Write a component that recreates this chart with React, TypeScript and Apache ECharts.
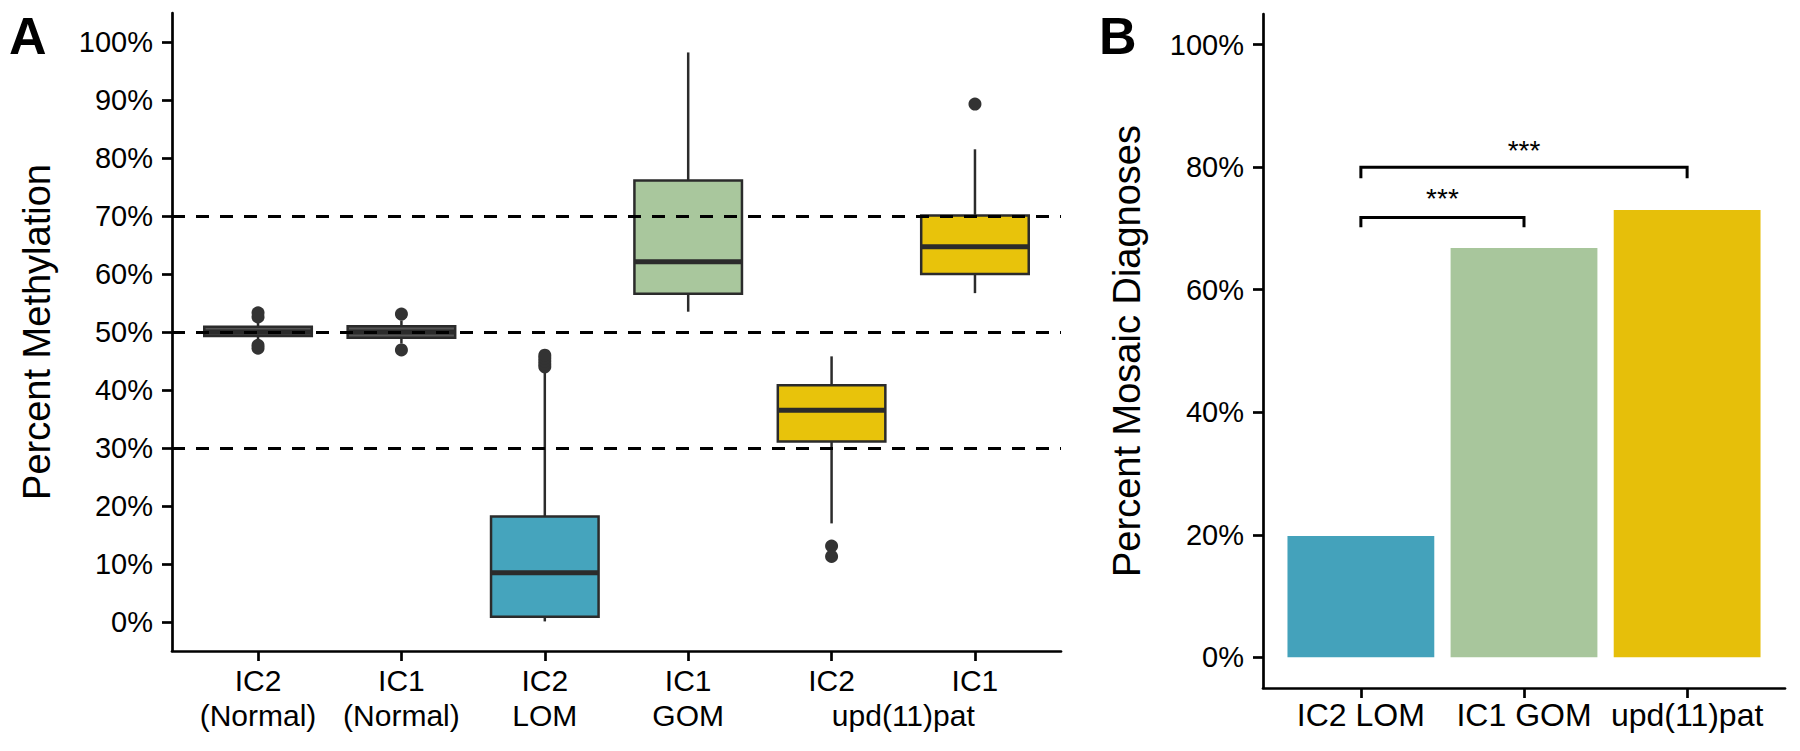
import React, { useEffect, useRef } from 'react';
import * as echarts from 'echarts';

const FONT = '"Liberation Sans", Arial, Helvetica, sans-serif';

// ---------- Panel A data ----------
const groupsA = ['IC2 (Normal)', 'IC1 (Normal)', 'IC2 LOM', 'IC1 GOM', 'IC2 upd(11)pat', 'IC1 upd(11)pat'];
const tickLabelsA = ['IC2\n(Normal)', 'IC1\n(Normal)', 'IC2\nLOM', 'IC1\nGOM', 'IC2', 'IC1'];
const sharedLabelA = 'upd(11)pat'; // second line shared by the last two groups
const sharedLabelPosA = 4.5;
// [min, Q1, median, Q3, max]
const boxStatsA = [
  [48.6, 49.3, 50.0, 50.9, 51.6],
  [48.0, 49.0, 50.0, 51.0, 52.0],
  [0.1, 0.9, 8.5, 18.2, 43.1],
  [53.5, 56.6, 62.1, 76.1, 98.2],
  [17.0, 31.1, 36.5, 40.8, 45.8],
  [56.7, 60.0, 64.7, 70.1, 81.5],
];
// [group index, value]
const outliersA = [
  [0, 52.6], [0, 53.3], [0, 47.2], [0, 47.7],
  [1, 53.1], [1, 46.9],
  [2, 44.0], [2, 44.5], [2, 45.0], [2, 45.5], [2, 46.0],
  [4, 13.1], [4, 11.3],
  [5, 89.3],
];
const thresholdsA = [30, 50, 70];
const yTicksA = [0, 10, 20, 30, 40, 50, 60, 70, 80, 90, 100];

// ---------- Panel B data ----------
const categoriesB = ['IC2 LOM', 'IC1 GOM', 'upd(11)pat'];
const valuesB = [19.8, 66.8, 73.0];
const yTicksB = [0, 20, 40, 60, 80, 100];
// [from index, to index, bracket level, tip end, label level]
const bracketsB = [
  [0, 1, 71.8, 70.2, 75.9],
  [0, 2, 80.0, 78.2, 83.7],
];
const signifB = ['***', '***'];

// ---------- styles ----------
const boxFillA = ['#555555', '#555555', '#45A4BD', '#A9C79D', '#E8C30B', '#E8C30B'];
const barFillB = ['#44A2BB', '#A8C69C', '#E6BF0A'];
const INK = '#2b2b2b';

export default function App() {
  const ref = useRef<HTMLDivElement>(null);

  useEffect(() => {
    if (!ref.current) return;
    const chart = echarts.init(ref.current, undefined, { renderer: 'svg' });

    const axisLineStyle = { color: '#000', width: 2.7 };
    const idxA = groupsA.map((_, i) => i);
    const idxB = categoriesB.map((_, i) => i);
    const xMaxA = idxA.length - 1 + 0.6;

    const option: any = {
      animation: false,
      backgroundColor: '#fff',
      textStyle: { fontFamily: FONT },
      grid: [
        { left: 172, top: 13, width: 889, height: 638 },
        { left: 1263, top: 14, width: 522, height: 674 },
      ],
      xAxis: [
        {
          type: 'value', gridIndex: 0, min: -0.6, max: xMaxA,
          axisLine: { show: true, onZero: false, lineStyle: axisLineStyle },
          axisTick: { show: true, customValues: idxA, length: 10, lineStyle: axisLineStyle },
          axisLabel: {
            customValues: idxA,
            formatter: (v: number) => tickLabelsA[Math.round(v)],
            fontSize: 30, lineHeight: 35, color: '#000', margin: 12, fontFamily: FONT,
          },
          splitLine: { show: false },
        },
        {
          type: 'value', gridIndex: 1, min: -0.6, max: idxB.length - 1 + 0.6,
          axisLine: { show: true, onZero: false, lineStyle: axisLineStyle },
          axisTick: { show: true, customValues: idxB, length: 10, lineStyle: axisLineStyle },
          axisLabel: {
            customValues: idxB,
            formatter: (v: number) => categoriesB[Math.round(v)],
            fontSize: 32, color: '#000', margin: 11, fontFamily: FONT,
          },
          splitLine: { show: false },
        },
        {
          // shared second-line label under the two upd(11)pat groups
          type: 'value', gridIndex: 0, min: -0.6, max: xMaxA, position: 'bottom',
          axisLine: { show: false, onZero: false },
          axisTick: { show: false },
          axisLabel: {
            customValues: [sharedLabelPosA],
            formatter: () => sharedLabelA,
            fontSize: 30, lineHeight: 35, color: '#000', margin: 47, fontFamily: FONT,
          },
          splitLine: { show: false },
        },
      ],
      yAxis: [
        {
          type: 'value', gridIndex: 0, min: -5, max: 105,
          axisLine: { show: true, onZero: false, lineStyle: axisLineStyle },
          axisTick: { show: true, customValues: yTicksA, length: 10, lineStyle: axisLineStyle },
          axisLabel: { customValues: yTicksA, formatter: (v: number) => v + '%', fontSize: 29, color: '#000', margin: 19, fontFamily: FONT },
          splitLine: { show: false },
          name: 'Percent Methylation', nameLocation: 'middle', nameGap: 116,
          nameTextStyle: { fontSize: 38, color: '#000', fontFamily: FONT },
        },
        {
          type: 'value', gridIndex: 1, min: -5, max: 105,
          axisLine: { show: true, onZero: false, lineStyle: axisLineStyle },
          axisTick: { show: true, customValues: yTicksB, length: 10, lineStyle: axisLineStyle },
          axisLabel: { customValues: yTicksB, formatter: (v: number) => v + '%', fontSize: 29, color: '#000', margin: 19, fontFamily: FONT },
          splitLine: { show: false },
          name: 'Percent Mosaic Diagnoses', nameLocation: 'middle', nameGap: 117,
          nameTextStyle: { fontSize: 38, color: '#000', fontFamily: FONT },
        },
      ],
      graphic: [
        { type: 'text', left: 9, top: 10, style: { text: 'A', fontSize: 52, fontWeight: 'bold', fontFamily: FONT, fill: '#000' } },
        { type: 'text', left: 1099, top: 10, style: { text: 'B', fontSize: 52, fontWeight: 'bold', fontFamily: FONT, fill: '#000' } },
      ],
      series: [
        {
          type: 'custom', name: 'boxes', xAxisIndex: 0, yAxisIndex: 0, z: 2,
          data: boxStatsA.map((s, i) => [i, ...s]),
          encode: { x: 0, y: [1, 2, 3, 4, 5] },
          renderItem: (params: any, api: any) => {
            const x = api.value(0);
            const yMin = api.coord([x, api.value(1)])[1];
            const yQ1 = api.coord([x, api.value(2)])[1];
            const yMed = api.coord([x, api.value(3)])[1];
            const yQ3 = api.coord([x, api.value(4)])[1];
            const cx = api.coord([x, api.value(5)])[0];
            const yMax = api.coord([x, api.value(5)])[1];
            const half = api.size([0.75, 0])[0] / 2;
            const ls = { stroke: INK, lineWidth: 2.5 };
            return {
              type: 'group',
              children: [
                { type: 'line', shape: { x1: cx, y1: yMax, x2: cx, y2: yQ3 }, style: ls },
                { type: 'line', shape: { x1: cx, y1: yQ1, x2: cx, y2: yMin }, style: ls },
                { type: 'rect', shape: { x: cx - half, y: yQ3, width: 2 * half, height: yQ1 - yQ3 }, style: { fill: boxFillA[params.dataIndex], stroke: INK, lineWidth: 2.5 } },
                { type: 'line', shape: { x1: cx - half, y1: yMed, x2: cx + half, y2: yMed }, style: { stroke: INK, lineWidth: 5 } },
              ],
            };
          },
        },
        {
          type: 'scatter', name: 'outliers', xAxisIndex: 0, yAxisIndex: 0, z: 3,
          data: outliersA, symbolSize: 13,
          itemStyle: { color: '#333333', opacity: 1 },
          markLine: {
            silent: true, symbol: ['none', 'none'], label: { show: false },
            lineStyle: { type: [13, 11], width: 3, color: '#000' },
            emphasis: { disabled: true },
            data: thresholdsA.map((v) => ({ yAxis: v })),
            z: 6,
          },
        },
        {
          type: 'custom', name: 'bars', xAxisIndex: 1, yAxisIndex: 1, z: 2,
          data: valuesB.map((v, i) => [i, v]),
          encode: { x: 0, y: 1 },
          renderItem: (params: any, api: any) => {
            const x = api.value(0);
            const [cx, top] = api.coord([x, api.value(1)]);
            const base = api.coord([x, 0])[1];
            const half = api.size([0.9, 0])[0] / 2;
            return { type: 'rect', shape: { x: cx - half, y: top, width: 2 * half, height: base - top }, style: { fill: barFillB[params.dataIndex] } };
          },
        },
        {
          type: 'custom', name: 'brackets', xAxisIndex: 1, yAxisIndex: 1, z: 4,
          data: bracketsB,
          encode: { x: [0, 1], y: [2, 3, 4] },
          renderItem: (params: any, api: any) => {
            const x1 = api.value(0), x2 = api.value(1);
            const pA = api.coord([x1, api.value(3)]);
            const pB = api.coord([x1, api.value(2)]);
            const pC = api.coord([x2, api.value(2)]);
            const pD = api.coord([x2, api.value(3)]);
            const s = api.coord([(x1 + x2) / 2, api.value(4)]);
            return {
              type: 'group',
              children: [
                { type: 'polyline', shape: { points: [pA, pB, pC, pD] }, style: { stroke: '#000', lineWidth: 3, fill: 'none' } },
                { type: 'text', x: s[0], y: s[1] + 6, style: { text: signifB[params.dataIndex], fontSize: 28, fontFamily: FONT, fill: '#000', align: 'center', verticalAlign: 'middle' } },
              ],
            };
          },
        },
      ],
    };

    chart.setOption(option);
    return () => chart.dispose();
  }, []);

  return <div ref={ref} style={{ position: 'fixed', left: 0, top: 0, width: 1800, height: 751, background: '#fff' }} />;
}
